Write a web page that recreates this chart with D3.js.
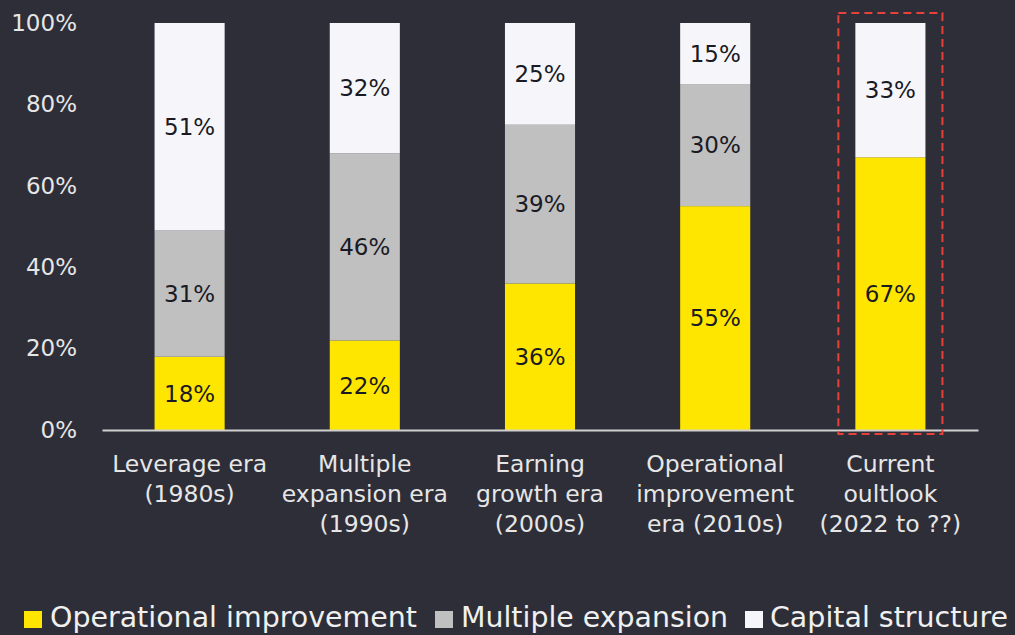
<!DOCTYPE html>
<html><head><meta charset="utf-8">
<script src="https://cdn.jsdelivr.net/npm/d3@7"></script>
<style>
html,body{margin:0;padding:0;background:#2e2e38;}
svg{display:block;}
text{font-family:"DejaVu Sans",sans-serif;}
</style></head><body>
<svg id="chart" width="1015" height="635"></svg>
<script>
const categories = [
  ["Leverage era","(1980s)"],
  ["Multiple","expansion era","(1990s)"],
  ["Earning","growth era","(2000s)"],
  ["Operational","improvement","era (2010s)"],
  ["Current","oultlook","(2022 to ??)"]
];
const seriesNames = ["Operational improvement","Multiple expansion","Capital structure"];
const operational = [18,22,36,55,67];
const multiple = [31,46,39,30,0];
const capital = [51,32,25,15,33];
const yTicks = [0,20,40,60,80,100];
const colors = ["#ffe600","#c0c0c0","#f6f6fa"];

const svg = d3.select("#chart");
const W = 1015, H = 635;
svg.append("rect").attr("width",W).attr("height",H).attr("fill","#2e2e38");

const x = d3.scaleBand().domain(d3.range(categories.length)).range([102,978]).paddingInner(0.6).paddingOuter(0.3);
const y = d3.scaleLinear().domain([0,100]).range([430,23]);

const rows = categories.map((c,i)=>({i, a:operational[i], b:multiple[i], c:capital[i]}));
const stack = d3.stack().keys(["a","b","c"])(rows);

// y axis labels
const yAxis = d3.axisLeft(y).tickValues(yTicks).tickFormat(d=>d+"%").tickSize(0).tickPadding(0);
const yg = svg.append("g").attr("transform","translate(77,0)").call(yAxis);
yg.select(".domain").remove();
yg.selectAll("text").attr("fill","#e6e6e6").attr("font-size",23).attr("font-family","DejaVu Sans, sans-serif");

// bars
stack.forEach((layer,k)=>{
  const g = svg.append("g");
  g.selectAll("rect").data(layer.filter(d=>d[1]-d[0]>0)).enter().append("rect")
    .attr("x",d=>x(d.data.i)).attr("width",x.bandwidth())
    .attr("y",d=>y(d[1])).attr("height",d=>y(d[0])-y(d[1]))
    .attr("fill",colors[k]);
  g.selectAll("text").data(layer.filter(d=>d[1]-d[0]>0)).enter().append("text")
    .attr("x",d=>x(d.data.i)+x.bandwidth()/2)
    .attr("y",d=>(y(d[0])+y(d[1]))/2)
    .attr("dy","0.36em").attr("text-anchor","middle")
    .attr("font-size",23).attr("fill","#1a1a24")
    .text(d=>(d[1]-d[0])+"%");
});

// x axis
const xAxis = d3.axisBottom(x).tickSize(0).tickFormat("");
const xg = svg.append("g").attr("transform","translate(0,430)").call(xAxis);
xg.select(".domain").attr("stroke","#d0d0d0").attr("stroke-width",2);

// category labels
categories.forEach((lines,i)=>{
  const t = svg.append("text").attr("text-anchor","middle").attr("fill","#e6e6e6").attr("font-size",23.5);
  lines.forEach((l,j)=>{
    t.append("tspan").attr("x",x(i)+x.bandwidth()/2).attr("y",472+j*30).text(l);
  });
});

// dashed highlight box
const last = categories.length-1;
svg.append("rect")
  .attr("x",x(last)-17).attr("y",y(100)-10)
  .attr("width",x.bandwidth()+34).attr("height",y(0)-y(100)+14)
  .attr("fill","none").attr("stroke","#e8413a").attr("stroke-width",2)
  .attr("stroke-dasharray","8,5");

// legend
const legendItems = [
  {sx:24, tx:50, tw:367},
  {sx:435, tx:461, tw:267},
  {sx:745, tx:770, tw:238}
];
seriesNames.forEach((n,k)=>{
  const L = legendItems[k];
  svg.append("rect").attr("x",L.sx).attr("y",611).attr("width",18).attr("height",17).attr("fill",colors[k]);
  svg.append("text").attr("x",L.tx).attr("y",627).attr("font-size",28).attr("fill","#f0f0f0")
    .attr("textLength",L.tw).attr("lengthAdjust","spacingAndGlyphs").text(n);
});
</script>
</body></html>
